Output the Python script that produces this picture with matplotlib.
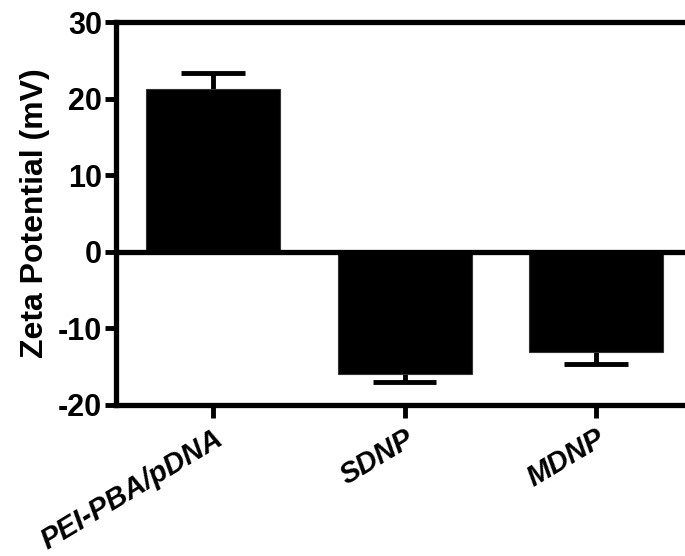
import numpy as np
import matplotlib.pyplot as plt
from matplotlib.transforms import ScaledTranslation

# 数据
groups = ['PEI-PBA/pDNA', 'SDNP', 'MDNP']
zeta = [21.2, -15.9, -13.1]
sd = [2.2, 1.1, 1.6]
y_ticks = [-20, -10, 0, 10, 20, 30]

plt.rcParams['font.family'] = ['Liberation Sans', 'DejaVu Sans']
plt.rcParams['font.weight'] = 'bold'
plt.rcParams['axes.unicode_minus'] = False

fig = plt.figure(figsize=(6.85, 5.56), dpi=100)
ax = fig.add_axes([116 / 685, 1 - 405 / 556, 1 - 116 / 685, (405 - 22) / 556])

x = np.arange(len(groups))
bar_w = 0.7
cap_w = 0.33
ax.bar(x, zeta, width=bar_w, color='black', edgecolor='#333333', linewidth=0.8,
       zorder=3)

# 误差棒只朝外（Prism 风格）
tips = [v + e if v > 0 else v - e for v, e in zip(zeta, sd)]
ax.vlines(x, zeta, tips, color='black', lw=3.5, zorder=2)
ax.hlines(tips, x - cap_w / 2, x + cap_w / 2, color='black', lw=3.5, zorder=2)

ax.axhline(0, color='black', lw=3.8, zorder=4)
ax.axhline(30, color='black', lw=3.8, zorder=4, clip_on=False)

ax.set_xlim(-0.507, 2.465)
ax.set_ylim(-20, 30)
ax.set_yticks(y_ticks)
ax.set_xticks(x)
ax.set_xticklabels(groups, rotation=31, ha='right', va='top',
                   rotation_mode='anchor', fontstyle='italic', fontsize=21)
offset = ScaledTranslation(4 / 72, 0, fig.dpi_scale_trans)
for lab in ax.get_xticklabels():
    lab.set_transform(lab.get_transform() + offset)
ax.tick_params(axis='y', labelsize=22, width=3.5, length=8, pad=2)
ax.tick_params(axis='x', width=3.5, length=9, pad=5)
ax.set_ylabel('Zeta Potential (mV)', fontsize=23, fontweight='bold', labelpad=6)

for s in ['top', 'right']:
    ax.spines[s].set_visible(False)
for s in ['left', 'bottom']:
    ax.spines[s].set_linewidth(3.8)

fig.savefig('out.png', dpi=100)
